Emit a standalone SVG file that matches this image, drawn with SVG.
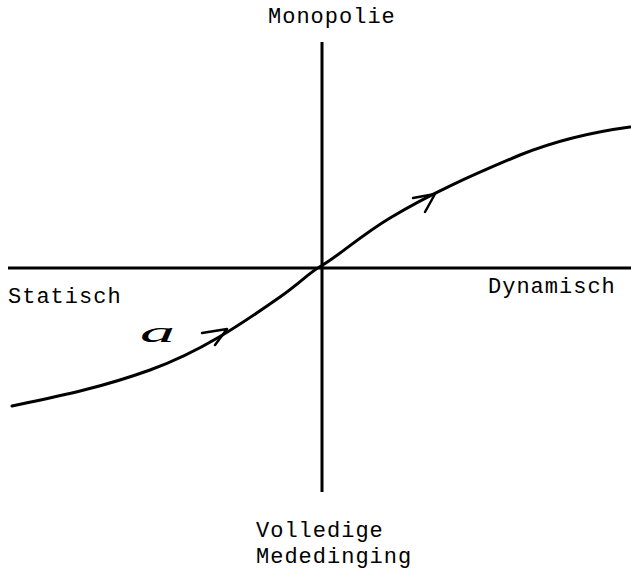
<svg xmlns="http://www.w3.org/2000/svg" width="631" height="577" viewBox="0 0 631 577">
<style>
.ax{stroke:#000;stroke-width:3;fill:none}
.cv{stroke:#000;stroke-width:3;fill:none;stroke-linecap:round}
.ah{stroke:#000;stroke-width:2.5;fill:none;stroke-linecap:round;stroke-linejoin:round}
.lb{font-family:"Liberation Mono","Courier New",monospace;font-size:22px;letter-spacing:1px;fill:#000}
</style>
<rect width="631" height="577" fill="#fff"/>
<g id="connectors">
<line class="ax" x1="8" y1="268" x2="631" y2="268"/>
<line class="ax" x1="322" y1="42" x2="322" y2="492"/>
<path class="cv" d="M12,406 C60,396 100,388 150,370 C200,352 240,325 280,297 C300,283 310,272 321,266 C340,255 360,236 390,218 C430,194 470,176 520,155 C560,139 600,131 630,127"/>
<polyline class="ah" points="202,333 227,329 215,345"/>
<polyline class="ah" points="413,198 435,194 425,212"/>
</g>
<g id="monopolie"><text class="lb" x="268" y="23">Monopolie</text></g>
<g id="statisch"><text class="lb" x="8" y="303">Statisch</text></g>
<g id="dynamisch"><text class="lb" x="488" y="293">Dynamisch</text></g>
<g id="volledige"><text class="lb" x="256" y="537">Volledige</text><text class="lb" x="256" y="563">Mededinging</text></g>
<g id="a-label"><text x="140" y="342" font-family="Liberation Serif, serif" font-style="italic" font-size="30" textLength="35" lengthAdjust="spacingAndGlyphs">a</text></g>
</svg>
